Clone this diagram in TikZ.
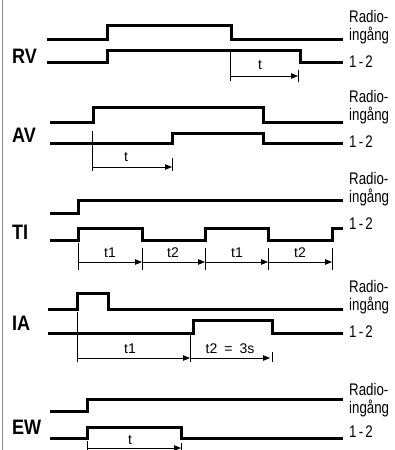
\documentclass[tikz,border=0pt]{standalone}
\usepackage{fontspec}
\setmainfont{Liberation Sans}
\usetikzlibrary{arrows.meta}

\begin{document}
\begin{tikzpicture}[
    x=1pt, y=-1pt,
    sig/.style={line width=3pt, line join=miter},
    dim/.style={line width=0.8pt},
    arr/.style={-{Triangle[length=7pt, width=5.5pt]}, line width=0.8pt},
    mode/.style={anchor=west, inner sep=0pt, font=\bfseries\fontsize{19}{19}\selectfont},
    side/.style={anchor=base west, inner sep=0pt, font=\fontsize{14}{16}\selectfont},
    tlbl/.style={anchor=base, inner sep=0pt, font=\fontsize{14}{16}\selectfont}
]
\useasboundingbox (0,0) rectangle (395,450);
\draw[black!45, line width=0.8pt] (2,0) -- (2,450);

% RV
\node[mode] (rv) at (12,56) {\scalebox{0.95}[1.1]{RV}};
\draw[sig] (47,39) -- (107,39) -- (107,25) -- (231,25) -- (231,39) -- (343,39);
\draw[sig] (47,62) -- (107,62) -- (107,50) -- (300,50) -- (300,62) -- (343,62);
\node[side] (rv-radio) at (349,22) {\scalebox{0.95}[1.2]{Radio-}};
\node[side] (rv-in)    at (349,40) {\scalebox{0.95}[1.2]{ingång}};
\node[side] (rv-out)   at (349,67) {\scalebox{0.95}[1.2]{1\,-\,2}};
\coordinate (rv-a) at (230,76);
\coordinate (rv-b) at (298,76);
\draw[dim] (230,50) -- (230,81);
\draw[dim] (298,70) -- (298,82);
\draw[arr] (rv-a) -- (rv-b);
\node[tlbl] (rv-t) at (260,69) {t};

% AV
\node[mode] (av) at (12,135) {\scalebox{0.95}[1.1]{AV}};
\draw[sig] (50,122) -- (93,122) -- (93,107) -- (263,107) -- (263,122) -- (343,122);
\draw[sig] (50,143) -- (172,143) -- (172,133) -- (263,133) -- (263,143) -- (343,143);
\node[side] (av-radio) at (349,102) {\scalebox{0.95}[1.2]{Radio-}};
\node[side] (av-in)    at (349,120) {\scalebox{0.95}[1.2]{ingång}};
\node[side] (av-out)   at (349,147) {\scalebox{0.95}[1.2]{1\,-\,2}};
\coordinate (av-a) at (92,167);
\coordinate (av-b) at (172,167);
\draw[dim] (92,131) -- (92,171);
\draw[dim] (172,158) -- (172,171);
\draw[arr] (av-a) -- (av-b);
\node[tlbl] (av-t) at (126,161) {t};

% TI
\node[mode] (ti) at (12,232) {\scalebox{0.95}[1.1]{TI}};
\draw[sig] (50,213) -- (78,213) -- (78,200) -- (343,200);
\draw[sig] (50,240) -- (78,240) -- (78,228) -- (142,228) -- (142,240) -- (205,240)
    -- (205,228) -- (268,228) -- (268,240) -- (332,240) -- (332,228) -- (343,228);
\node[side] (ti-radio) at (349,184) {\scalebox{0.95}[1.2]{Radio-}};
\node[side] (ti-in)    at (349,202) {\scalebox{0.95}[1.2]{ingång}};
\node[side] (ti-out)   at (349,229) {\scalebox{0.95}[1.2]{1\,-\,2}};
\draw[dim] (78,243) -- (78,270);
\foreach \x in {142,205,268,332}
    \draw[dim] (\x,248) -- (\x,270);
\foreach \a/\b/\n in {78/142/1, 142/205/2, 205/268/3, 268/332/4} {
    \coordinate (ti-a\n) at (\a,262);
    \coordinate (ti-b\n) at (\b,262);
    \draw[arr] (ti-a\n) -- (ti-b\n);
}
\node[tlbl] (ti-t1) at (110,257) {t1};
\node[tlbl] (ti-t2) at (173,257) {t2};
\node[tlbl] (ti-t3) at (237,257) {t1};
\node[tlbl] (ti-t4) at (300,257) {t2};

% IA
\node[mode] (ia) at (12,323) {\scalebox{0.95}[1.1]{IA}};
\draw[sig] (48,309) -- (77,309) -- (77,293) -- (108,293) -- (108,309) -- (343,309);
\draw[sig] (48,333) -- (193,333) -- (193,320) -- (272,320) -- (272,333) -- (343,333);
\node[side] (ia-radio) at (349,292) {\scalebox{0.95}[1.2]{Radio-}};
\node[side] (ia-in)    at (349,310) {\scalebox{0.95}[1.2]{ingång}};
\node[side] (ia-out)   at (349,337) {\scalebox{0.95}[1.2]{1\,-\,2}};
\coordinate (ia-a) at (77,358);
\coordinate (ia-b) at (190,358);
\coordinate (ia-c) at (270,358);
\draw[dim] (77,312) -- (77,362);
\draw[dim] (190,335) -- (190,362);
\draw[dim] (272,352) -- (272,362);
\draw[arr] (ia-a) -- (ia-b);
\draw[arr] (ia-b) -- (ia-c);
\node[tlbl] (ia-t1) at (130,353) {t1};
\node[tlbl] (ia-t2) at (230,353) {t2\enspace=\enspace3s};

% EW
\node[mode] (ew) at (12,427) {\scalebox{0.95}[1.1]{EW}};
\draw[sig] (50,411) -- (87,411) -- (87,399) -- (343,399);
\draw[sig] (50,438) -- (87,438) -- (87,427) -- (181,427) -- (181,438) -- (343,438);
\node[side] (ew-radio) at (349,395) {\scalebox{0.95}[1.2]{Radio-}};
\node[side] (ew-in)    at (349,413) {\scalebox{0.95}[1.2]{ingång}};
\node[side] (ew-out)   at (349,437) {\scalebox{0.95}[1.2]{1\,-\,2}};
\coordinate (ew-a) at (87,448);
\coordinate (ew-b) at (181,448);
\draw[dim] (87,441) -- (87,452);
\draw[dim] (181,443) -- (181,452);
\draw[arr] (ew-a) -- (ew-b);
\node[tlbl] (ew-t) at (130,444) {t};
\end{tikzpicture}
\end{document}
